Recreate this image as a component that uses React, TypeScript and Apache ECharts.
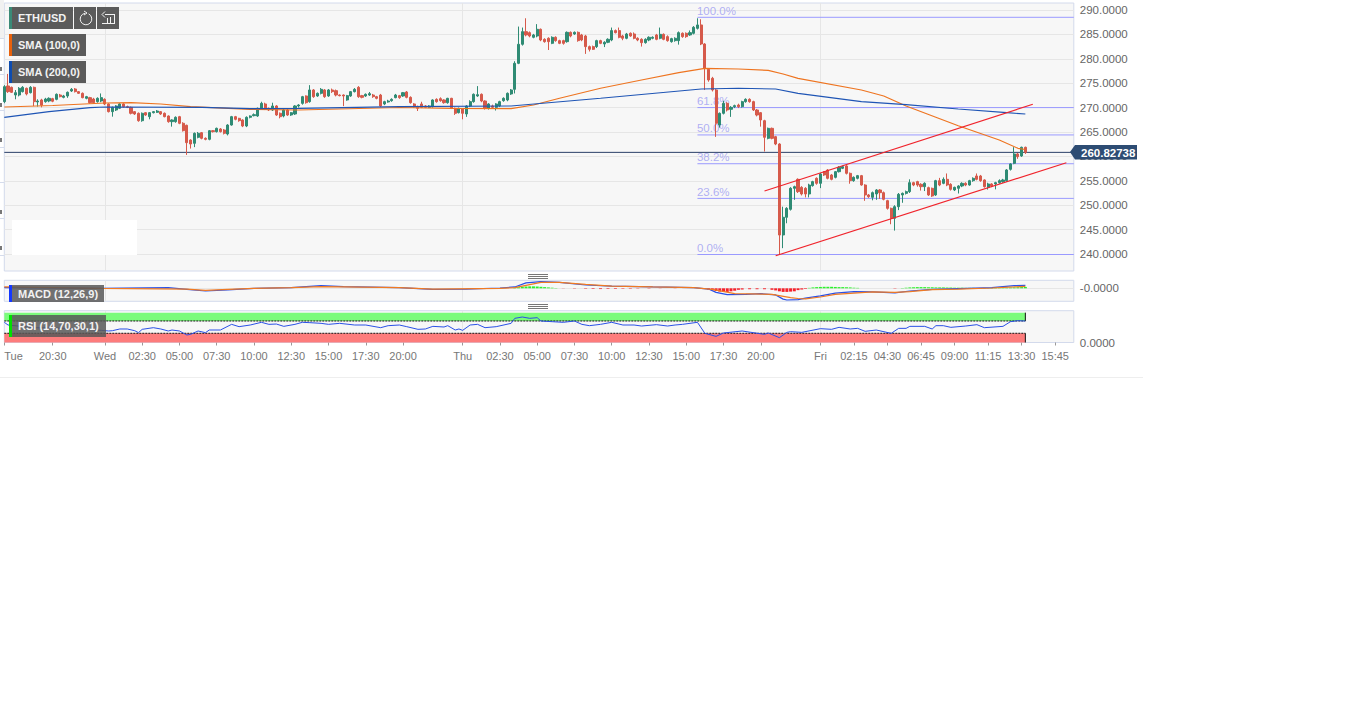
import React, { useEffect, useRef } from "react";
import * as echarts from "echarts";

// rows: [open, close, low, high], one per 15 minute bar
const candlesTue = [
[271.22,274.29,270.9,274.6],[274.43,273.27,273.0,276.9],[274.15,273.13,273.0,274.3],[272.58,273.06,271.7,273.6],[272.58,273.95,272.3,274.2],
[273.27,274.15,273.1,274.4],[273.95,272.79,272.5,274.1],[273.06,274.15,272.9,274.4],[274.15,271.22,270.3,274.3],[271.15,271.35,270.2,271.7],
[271.56,270.5,270.05,271.8],[271.22,271.76,271.0,272.0],[271.35,271.9,271.1,272.1],[271.83,271.3,271.1,272.0],[271.69,272.72,271.5,272.9],
[272.58,272.24,272.1,272.8],[272.1,272.38,271.9,272.6],[272.38,273.13,272.0,273.3],[273.4,273.74,273.2,274.0],[273.81,273.27,273.1,274.0],
[273.27,272.92,272.8,273.4],[272.92,272.04,271.9,273.1],[271.9,272.24,271.7,272.4],[272.04,271.01,270.8,272.2],[271.76,271.01,270.8,272.0],
[271.22,271.9,271.0,272.1],[271.35,272.04,271.1,272.9],
];
const candlesWed = [
[271.69,270.74,270.5,271.9],[270.74,269.17,269.0,270.9],[269.17,270.05,268.14,270.2],[269.51,270.33,269.3,270.5],[269.85,270.74,269.7,270.9],
[270.74,270.19,270.0,270.9],[270.19,270.05,269.9,270.4],[270.05,268.83,268.6,270.2],[269.17,268.69,268.5,269.3],[268.83,267.32,267.1,269.0],
[267.32,268.83,267.1,269.0],[268.96,268.48,268.3,269.1],[268.14,268.96,267.6,269.1],[268.96,269.17,268.8,269.3],[269.03,269.3,268.9,269.5],
[269.17,268.69,268.5,269.3],[268.83,268.14,268.0,269.0],[268.28,267.12,266.9,268.4],[267.12,267.46,266.1,267.6],[267.12,268.01,266.9,268.2],
[268.14,266.78,266.6,268.3],[266.78,265.27,265.1,267.0],[266.37,262.81,260.3,266.5],[263.36,262.54,261.6,263.5],[262.68,264.73,261.9,264.9],
[263.91,264.73,263.7,265.0],[264.86,263.7,263.5,265.0],[263.7,263.5,263.3,263.9],[263.5,265.27,263.3,265.4],[265.27,265.07,264.9,265.4],
[265.07,265.75,264.9,265.9],[265.62,265.07,264.9,265.8],[265.41,264.73,264.5,265.6],[264.59,266.43,264.3,266.6],[266.43,268.14,266.3,268.3],
[268.14,267.6,267.4,268.3],[267.8,267.32,267.1,267.9],[267.46,266.23,266.0,267.6],[266.23,268.01,266.0,268.2],[268.01,268.28,267.8,268.4],
[268.35,268.55,268.2,268.8],[268.28,269.85,268.1,270.0],[269.85,270.87,269.7,271.2],[270.74,269.71,269.5,271.0],[269.85,269.51,269.3,270.0],
[269.51,270.33,269.3,271.0],[270.33,268.48,268.3,270.5],[268.83,268.14,267.8,269.0],[268.28,269.51,268.0,269.7],[269.51,268.48,268.3,269.7],
[268.48,268.96,268.3,269.1],[268.69,270.33,268.5,270.5],[270.33,270.53,270.0,270.7],[270.87,272.24,270.6,272.4],[272.38,271.01,270.8,272.5],
[271.22,273.61,271.0,274.6],[273.61,272.24,272.0,273.8],[272.38,272.92,272.2,273.1],[272.92,273.74,272.7,274.0],[273.61,272.24,272.0,273.8],
[272.38,273.61,272.2,273.8],[273.61,273.27,273.0,273.9],[273.47,272.58,272.3,273.7],[272.58,272.45,272.3,272.7],[272.58,272.38,270.3,272.7],
[271.56,272.45,271.4,272.6],[272.38,273.27,272.2,273.4],[273.27,273.74,273.1,274.0],[274.15,272.24,272.0,274.4],[272.45,272.1,271.9,272.6],
[272.38,272.72,272.2,272.9],[272.58,272.86,272.4,273.2],[272.58,272.24,272.0,272.8],[272.24,271.9,271.7,272.4],[272.58,270.33,270.1,272.8],
[270.74,271.22,270.5,271.4],[271.15,271.35,271.0,271.6],[271.42,271.69,271.2,271.9],[272.04,272.58,271.9,272.8],[272.45,272.04,271.8,272.6],
[272.38,273.06,272.2,273.2],[273.2,272.1,271.9,273.4],[272.1,271.01,270.8,272.3],[270.74,270.19,270.0,270.9],[270.19,269.85,269.3,270.4],
[270.74,270.05,269.9,271.2],[270.33,270.05,269.9,270.5],[270.05,270.33,269.9,270.5],[270.19,271.56,270.0,271.7],[271.69,271.22,271.0,271.9],
[271.83,271.42,271.2,272.1],[271.56,271.01,270.8,271.7],[271.01,271.9,270.8,272.0],[271.9,269.85,269.7,272.0],[269.85,268.83,268.5,270.0],
[268.96,269.85,268.8,270.0],
];
const candlesThu = [
[269.71,268.83,267.6,269.9],[268.69,270.33,268.1,270.5],[270.33,271.22,270.1,271.5],[271.22,272.72,271.0,272.9],[272.38,272.65,272.2,274.4],
[272.72,271.35,271.1,272.9],[271.35,269.85,269.6,271.5],[269.85,270.74,269.6,270.9],[270.33,270.05,269.9,270.6],[270.05,270.74,269.4,270.9],
[270.33,271.22,270.1,271.4],[271.42,271.9,271.2,272.1],[271.56,272.92,271.3,273.1],[272.79,273.61,272.6,273.8],[273.74,279.07,272.9,279.5],
[279.07,282.97,278.9,286.6],[282.97,285.56,282.7,286.4],[285.56,284.88,284.6,288.3],[285.36,284.67,284.4,285.6],[284.4,284.88,284.2,285.1],
[284.67,286.04,284.4,287.1],[286.04,283.85,283.6,286.2],[283.99,283.51,283.3,284.2],[284.2,283.51,281.8,284.4],[283.17,284.4,283.0,284.6],
[284.4,283.72,283.5,284.6],[283.72,283.17,283.0,283.9],[283.72,283.17,282.9,283.9],[283.51,285.42,283.3,285.6],[285.42,284.67,284.4,285.6],
[285.08,285.42,284.9,285.6],[285.42,283.72,283.5,285.6],[284.88,283.85,283.6,285.1],[284.67,282.49,281.0,284.9],[282.49,281.94,281.5,282.7],
[282.49,281.94,281.8,282.7],[282.49,283.72,282.2,283.9],[283.72,283.17,283.0,283.9],[283.03,283.38,282.4,283.6],[283.38,283.99,283.2,284.2],
[283.85,285.77,283.6,286.4],[285.77,285.36,285.2,286.0],[285.77,284.4,284.2,286.4],[284.67,284.2,283.8,284.9],[284.2,285.08,284.0,285.3],
[285.22,284.67,284.5,285.4],[285.08,284.2,284.0,285.4],[284.2,283.85,283.6,284.4],[283.99,283.31,282.5,284.2],[283.31,283.99,283.1,284.2],
[283.85,284.4,283.6,284.6],[284.2,284.4,284.0,284.6],[284.88,283.99,283.8,285.1],[284.2,285.01,284.0,286.4],[285.01,283.99,283.8,285.2],
[284.54,283.72,283.5,284.8],[283.51,284.13,283.3,284.3],[283.72,284.2,283.5,284.4],[283.72,285.36,282.9,285.6],[285.22,284.54,284.3,285.4],
[285.22,284.54,284.3,285.4],[284.88,285.36,284.7,285.8],[285.22,286.45,285.0,286.7],[286.24,286.93,286.0,288.3],[286.93,283.03,282.8,288.1],
[283.03,278.05,273.6,283.2],[277.84,275.66,275.3,278.1],[276.0,273.61,273.3,276.3],[273.61,266.78,264.0,273.8],[266.43,268.83,265.9,269.0],
[268.83,270.87,268.6,271.4],[270.87,269.51,269.2,271.1],[269.65,270.05,268.1,270.3],[270.19,270.4,269.9,270.6],[270.53,270.19,269.9,270.8],
[270.19,271.22,270.0,271.4],[271.22,271.69,271.0,271.9],[271.69,271.22,271.0,271.9],[271.22,269.51,269.3,271.4],[269.51,268.48,268.2,269.7],
[268.96,267.46,266.1,269.1],[267.32,263.91,261.0,267.5],[263.7,265.75,263.5,265.9],[265.75,263.7,263.5,265.9],[264.05,262.54,262.3,264.2],
[262.54,243.89,239.8,262.7],[243.9,247.52,241.2,249.7],[247.52,249.36,246.3,249.6],[249.16,253.46,248.9,253.7],[253.46,253.8,251.1,254.0],
[255.3,252.78,252.5,255.5],[253.66,252.3,252.0,253.9],[253.46,252.3,251.6,253.7],[252.3,254.14,251.6,254.4],[254.01,254.83,253.8,255.0],
[255.51,254.48,254.2,255.7],
];
const candlesFri = [
[254.48,256.4,253.5,256.6],[256.87,256.19,256.0,257.0],[257.2,255.51,255.3,257.4],[256.19,255.3,255.1,256.4],[255.71,256.87,255.5,257.0],
[256.87,257.76,256.7,258.0],[257.56,257.9,257.4,258.1],[258.04,256.53,256.3,258.2],[256.53,255.03,254.4,256.7],[255.03,255.71,254.8,255.9],
[255.51,256.06,255.3,256.2],[256.06,254.14,254.0,256.2],[254.14,252.1,250.9,254.3],[252.1,251.75,251.5,252.3],[251.62,252.57,251.0,252.8],
[252.3,253.12,251.1,253.3],[253.12,252.57,251.3,253.3],[252.57,251.21,251.0,252.8],[250.93,249.36,249.1,251.1],[249.36,247.31,246.1,249.5],
[247.31,249.7,244.8,250.0],[249.7,252.23,249.0,252.5],[252.1,252.43,250.5,252.6],[252.43,252.78,252.2,253.0],[252.78,254.62,252.5,255.3],
[254.62,254.14,253.9,254.8],[254.83,254.14,253.8,255.0],[254.28,253.8,253.0,254.5],[253.8,254.48,252.9,254.7],[253.6,252.1,251.9,253.8],
[253.46,251.89,251.7,253.6],[252.1,255.03,251.9,255.2],[255.03,254.14,253.9,255.6],[254.48,255.3,254.3,255.7],[255.3,254.14,253.9,256.5],
[254.28,253.25,253.0,254.5],[253.12,253.66,252.9,253.8],[253.46,253.94,252.4,254.1],[253.94,254.48,253.7,254.7],[254.48,254.14,253.9,254.7],
[254.14,255.03,254.0,255.2],[255.03,255.51,254.8,255.7],[255.99,255.3,255.1,256.5],[255.99,255.03,254.8,256.2],[255.17,253.8,253.6,255.3],
[253.66,254.35,253.2,254.6],[254.35,253.94,253.7,254.5],[254.35,254.62,253.25,254.8],[254.62,255.03,254.4,255.3],[254.83,255.17,254.6,255.4],
[255.03,257.22,254.8,257.4],[257.35,258.45,257.1,258.6],[258.58,260.5,258.4,261.9],[260.5,259.95,259.5,260.7],[260.09,261.86,259.9,262.0],
[261.86,260.83,260.5,262.0],
];

// [bar index, value]
const sma100 = [[0,270.12],[13,270.43],[27,270.94],[34,271.0],[42,270.74],[50,270.19],[66,269.65],[79,269.51],[106,270.02],[120,269.86],[136,269.78],[142,270.53],[149,271.91],[160,273.96],[171,275.66],[181,277.15],[188,278.05],[197,277.91],[205,277.64],[209,276.89],[213,276.0],[230,273.61],[236,272.38],[242,270.33],[256,266.29],[267,263.36],[272,261.66],[274,261.41]];
const sma200 = [[0,268.01],[12,269.16],[23,269.98],[27,270.12],[53,270.06],[66,269.78],[79,269.86],[106,270.19],[136,270.33],[160,271.91],[187,273.81],[197,273.96],[207,273.81],[213,272.93],[230,271.21],[242,270.59],[256,269.71],[269,268.95],[274,268.69]];
const fibLevels = [288.5, 270.0, 264.4, 258.5, 251.4, 239.9];
const fibLabels = ["100.0%", "61.8%", "50.0%", "38.2%", "23.6%", "0.0%"];
const trendUpper = [[204,252.91],[276,270.68]];
const trendLower = [[207,239.65],[285,258.71]];
const lastPrice = 260.82738;
const priceTicks = [240,245,250,255,260,265,270,275,280,285,290];

const macdLine = [[0,0.2],[26,0],[44,0.2],[49,-0.35],[54,-0.9],[60,-0.55],[67,0],[77,0.2],[85,0.9],[91,0.55],[106,0.2],[115,-0.35],[124,-0.25],[133,0.1],[137,0.45],[140,1.8],[144,2.2],[149,2],[156,1.1],[163,0.75],[174,0.45],[185,0.2],[189,-0.25],[191,-1.35],[194,-2.1],[199,-2],[203,-1.8],[207,-2.2],[209,-3.6],[210,-3.9],[213,-3.8],[215,-3.3],[219,-2.5],[223,-1.6],[228,-1.1],[233,-1.2],[239,-1.55],[243,-0.9],[249,-0.35],[256,-0.1],[265,0.2],[271,0.9],[274,1.0]];
const macdSignal = [[0,0.45],[26,0],[49,-0.25],[54,-0.7],[60,-0.35],[67,0],[77,0.2],[85,0.55],[91,0.45],[106,0.2],[115,-0.25],[133,0],[137,0.2],[144,2],[149,2],[156,1.3],[163,0.75],[174,0.45],[185,0.2],[190,-0.35],[196,-1.8],[206,-2],[211,-3.1],[213,-3.4],[215,-3.5],[219,-2.9],[223,-2],[228,-1.6],[233,-1.2],[239,-1.35],[243,-1.1],[249,-0.45],[256,-0.25],[265,0.1],[271,0.45],[274,0.65]];
const macdHist = [[137,0.2],[138,0.35],[139,0.5],[140,0.6],[141,0.65],[142,0.65],[143,0.6],[144,0.5],[145,0.4],[146,0.3],[147,0.2],[148,0.1],
[150,-0.05],[153,-0.1],[156,-0.15],[158,-0.2],[160,-0.25],[162,-0.2],[164,-0.2],[166,-0.15],[168,-0.15],[170,-0.1],[173,-0.1],[176,-0.05],[180,-0.05],
[188,-0.2],[189,-0.4],[190,-0.7],[191,-0.9],[192,-1.1],[193,-1.2],[194,-1.2],[195,-1.0],[196,-0.8],[197,-0.5],[198,-0.4],[200,-0.3],[202,-0.3],[204,-0.3],[206,-0.5],
[207,-0.7],[208,-1.0],[209,-1.2],[210,-1.2],[211,-1.1],[212,-1.0],[213,-0.6],[214,-0.4],[215,-0.2],
[216,0.15],[217,0.3],[218,0.4],[219,0.45],[220,0.5],[221,0.5],[222,0.5],[223,0.45],[224,0.4],[225,0.4],[226,0.35],[227,0.3],[228,0.2],[229,0.15],[239,-0.1],
[241,0.1],[242,0.2],[243,0.3],[244,0.35],[245,0.4],[246,0.4],[247,0.4],[248,0.35],[249,0.35],[250,0.3],[251,0.3],[252,0.3],[253,0.25],[254,0.25],[255,0.2],[256,0.2],[257,0.2],[258,0.15],[259,0.15],[260,0.15],[261,0.1],[262,0.1],[263,0.1],[264,0.1],[265,0.1],[266,0.1],[267,0.1],[268,0.15],[269,0.2],[270,0.25],[271,0.3],[272,0.35],[273,0.4],[274,0.45]];

const rsiLine = [[0,65.6],[1,56.9],[8,48],[17,46],[26,39.5],[28,37.4],[29,38.4],[31,43.9],[33,43.9],[35,38.4],[36,32],[37,42.8],[40,48.2],[42,43.9],[44,37.4],[45,40.6],[47,37.4],[49,24.4],[50,26.5],[52,37.4],[54,32],[55,40.6],[58,40.6],[61,59],[63,51.5],[66,56.9],[69,65.6],[71,59],[73,60.1],[75,52.5],[78,59],[80,65.6],[82,64.5],[85,62.3],[87,59],[90,62.3],[94,56.9],[97,56.9],[101,48.2],[103,54.7],[106,56.9],[108,51.5],[111,42.8],[113,43.9],[115,52.5],[118,50.4],[119,54.7],[121,40.6],[122,43.9],[123,39.5],[125,56.9],[127,59],[129,48.2],[132,51.5],[136,62.3],[137,78.6],[139,82.9],[141,78.6],[143,80.7],[144,69.9],[147,67.7],[150,65.6],[153,69.9],[155,59],[157,54.7],[160,59],[163,65.6],[166,56.9],[169,56.9],[171,53.6],[175,58],[178,53.6],[180,56.9],[182,59],[186,65.6],[188,29.8],[191,20],[193,30.9],[198,37.4],[204,26.5],[205,30.9],[208,15.7],[210,33],[211,35.2],[214,33],[219,45],[222,42.8],[224,49.3],[227,43.9],[229,46],[231,36.3],[234,40.6],[238,29.8],[240,46],[242,46],[243,52.5],[247,52.5],[249,43.9],[250,54.7],[252,54.7],[254,49.3],[258,53.6],[261,58],[263,48.2],[268,52.5],[270,67.7],[272,71],[274,69.9]];
const rsiHigh = 70;
const rsiLow = 30;
const rsiBandTop = 97;

const tickLabels: [number, string][] = [[0,"Tue"],[13,"20:30"],[27,"Wed"],[37,"02:30"],[47,"05:00"],[57,"07:30"],[67,"10:00"],[77,"12:30"],[87,"15:00"],[97,"17:30"],[107,"20:00"],[123,"Thu"],[133,"02:30"],[143,"05:00"],[153,"07:30"],[163,"10:00"],[173,"12:30"],[183,"15:00"],[193,"17:30"],[203,"20:00"],[219,"Fri"],[228,"02:15"],[237,"04:30"],[246,"06:45"],[255,"09:00"],[264,"11:15"],[273,"13:30"],[282,"15:45"]];
const dayBars = [27, 123, 219];
const slotCount = 288;
const lastBar = 274;
const fibStart = 186;

const UP = "#2f8b74";
const DOWN = "#d65a4b";
const BLUE = "#1f55b5";
const ORANGE = "#ee7420";
const FIB = "#9a9aff";
const FONT = "'Liberation Sans', Arial, sans-serif";

const labelMap = new Map(tickLabels);

function buildOption() {
  const candles = [...candlesTue, ...candlesWed, ...candlesThu, ...candlesFri];
  const cats = Array.from({ length: slotCount }, (_, i) => "b" + i);
  const grids = [
    { left: 4.3, top: 3, width: 1069.5, height: 268 },
    { left: 4.3, top: 280.3, width: 1069.5, height: 21 },
    { left: 4.3, top: 310.7, width: 1069.5, height: 31.8 },
  ].map((g) => ({ ...g, show: true, backgroundColor: "#f7f7f7", borderColor: "#d3daec", borderWidth: 1 }));

  const xAxis = [0, 1, 2].map((k) => ({
    type: "category",
    gridIndex: k,
    data: cats,
    boundaryGap: false,
    axisLine: { show: false },
    axisTick: {
      show: k === 2,
      length: 3,
      interval: (i: number) => labelMap.has(i),
      lineStyle: { color: "#999" },
    },
    axisLabel: {
      show: k === 2,
      interval: (i: number) => labelMap.has(i),
      formatter: (_: string, i: number) => labelMap.get(i) ?? "",
      alignMinLabel: "left",
      color: "#777",
      fontFamily: FONT,
      fontSize: 11,
      margin: 8,
    },
    splitLine: {
      show: true,
      interval: (i: number) => dayBars.includes(i),
      lineStyle: { color: "#e6e6e6", width: 1 },
    },
  }));

  const yCommon = {
    type: "value",
    position: "right",
    scale: false,
    axisLine: { show: false },
  };
  const yLabel = { color: "#666", fontFamily: FONT, fontSize: 11.5, margin: 6 };
  const yAxis = [
    {
      ...yCommon,
      gridIndex: 0,
      min: 236.52,
      max: 291.43,
      axisTick: { length: 5, customValues: priceTicks, lineStyle: { color: "#aaa" } },
      axisLabel: { ...yLabel, customValues: priceTicks, formatter: (v: number) => v.toFixed(4) },
      splitLine: { show: true, lineStyle: { color: "#e6e6e6" } },
    },
    {
      ...yCommon,
      gridIndex: 1,
      min: -4.33,
      max: 2.67,
      axisTick: { length: 5, customValues: [0], lineStyle: { color: "#aaa" } },
      axisLabel: { ...yLabel, customValues: [0], formatter: () => "-0.0000" },
      splitLine: { show: true, lineStyle: { color: "#e6e6e6" } },
    },
    {
      ...yCommon,
      gridIndex: 2,
      min: 0,
      max: 103.4,
      axisTick: { length: 5, customValues: [0], lineStyle: { color: "#aaa" } },
      axisLabel: { ...yLabel, customValues: [0], formatter: () => "0.0000" },
      splitLine: { show: false },
    },
  ];

  const line = (name: string, data: number[][], color: string, width: number, k = 0, extra = {}) => ({
    name,
    type: "line",
    xAxisIndex: k,
    yAxisIndex: k,
    data,
    symbol: "none",
    silent: true,
    lineStyle: { color, width },
    ...extra,
  });

  const series: any[] = [
    ...fibLevels.map((v, n) => line("fib" + n, [[fibStart, v], [slotCount - 1, v]], FIB, 1, 0, { z: 1 })),
    line("price", [[0, lastPrice], [slotCount - 1, lastPrice]], "#2a3f68", 1, 0, { z: 1 }),
    {
      name: "fib labels",
      type: "scatter",
      symbolSize: 1,
      silent: true,
      itemStyle: { color: "transparent" },
      z: 1,
      data: fibLevels.map((v, n) => ({
        value: [fibStart, v],
        label: {
          show: true,
          formatter: fibLabels[n],
          position: [0, -12],
          color: "#9c9cf2",
          fontFamily: FONT,
          fontSize: 11.5,
        },
      })),
    },
    {
      name: "ETH/USD",
      type: "candlestick",
      data: candles,
      barWidth: 2.6,
      silent: true,
      z: 3,
      itemStyle: { color: UP, color0: DOWN, borderColor: UP, borderColor0: DOWN, borderWidth: 1 },
    },
    line("SMA (100,0)", sma100, ORANGE, 1.2, 0, { z: 4 }),
    line("SMA (200,0)", sma200, BLUE, 1.2, 0, { z: 4 }),
    line("upper", trendUpper, "#f0242c", 1.2, 0, { z: 5 }),
    line("lower", trendLower, "#f0242c", 1.2, 0, { z: 5 }),
    {
      name: "hist",
      type: "bar",
      xAxisIndex: 1,
      yAxisIndex: 1,
      barWidth: 3,
      silent: true,
      data: macdHist.map(([i, v]) => ({ value: [i, v], itemStyle: { color: v >= 0 ? "#2cf02c" : "#f5202a" } })),
    },
    line("MACD", macdLine, "#2a50e6", 1.2, 1, { z: 4 }),
    line("signal", macdSignal, "#f07a22", 1.2, 1, { z: 5 }),
    line("RSI", rsiLine, "#2a50e6", 1, 2, {
      z: 5,
      markArea: {
        silent: true,
        data: [
          [
            { coord: [0, rsiHigh], itemStyle: { color: "#7bfb7b", opacity: 1 } },
            { coord: [lastBar, rsiBandTop] },
          ],
          [
            { coord: [0, 0], itemStyle: { color: "#fd7c7c", opacity: 1 } },
            { coord: [lastBar, rsiLow] },
          ],
        ],
      },
    }),
    line("rsiHigh", [[0, rsiHigh], [lastBar, rsiHigh]], "#111", 1, 2, { lineStyle: { color: "#111", width: 1, type: [2, 1] } }),
    line("rsiLow", [[0, rsiLow], [lastBar, rsiLow]], "#111", 1, 2, { lineStyle: { color: "#111", width: 1, type: [2, 1] } }),
    line("rsiEdgeTop", [[lastBar, rsiHigh], [lastBar, rsiBandTop]], "#111", 1, 2),
    line("rsiEdgeBottom", [[lastBar, 0], [lastBar, rsiLow]], "#111", 1, 2),
  ];

  const btn = (x: number, y: number, w: number, h: number, text?: string, stripe?: string, op = 0.98) => {
    const out: any[] = [
      { type: "rect", shape: { x, y, width: w, height: h }, style: { fill: "#585858", opacity: op }, z: 20 },
    ];
    if (stripe) out.push({ type: "rect", shape: { x, y, width: 3, height: h }, style: { fill: stripe }, z: 21 });
    if (text)
      out.push({
        type: "text",
        x: x + 9,
        y: y + h / 2,
        style: { text, fill: "#f2f2f2", font: `bold 11px ${FONT}`, textVerticalAlign: "middle", verticalAlign: "middle" },
        z: 22,
      });
    return out;
  };
  const stroke = { stroke: "#f2f2f2", lineWidth: 1, fill: "none" };
  const seg = (x1: number, y1: number, x2: number, y2: number) => ({
    type: "line",
    shape: { x1, y1, x2, y2 },
    style: stroke,
    z: 22,
  });
  const grip = (y: number) =>
    [0, 2, 4].map((d) => ({
      type: "line",
      shape: { x1: 528, y1: y + d, x2: 548, y2: y + d },
      style: { stroke: "#777", lineWidth: 1 },
      z: 20,
    }));
  const leftStrip = (y: number) => ({
    type: "line",
    shape: { x1: 0, y1: y, x2: 4, y2: y },
    style: { stroke: "#d5dcec", lineWidth: 1 },
    z: 1,
  });
  const leftMark = (y: number) => ({
    type: "rect",
    shape: { x: 0, y, width: 2, height: 4 },
    style: { fill: "#777" },
    z: 1,
  });

  const graphic = [
    { type: "rect", shape: { x: 0, y: 0, width: 4, height: 38 }, style: { fill: "#f1f1f1" }, z: 1 },
    ...[38.5, 74.5, 110.5, 147.5, 182.5, 218.5, 255.5].map(leftStrip),
    ...[67, 103, 138, 210, 246].map(leftMark),
    { type: "line", shape: { x1: 0, y1: 377.5, x2: 1143, y2: 377.5 }, style: { stroke: "#eeeeee", lineWidth: 1 }, z: 1 },
    { type: "rect", shape: { x: 12, y: 220, width: 125, height: 35 }, style: { fill: "#ffffff" }, z: 19 },
    ...btn(9, 7, 64, 22, "ETH/USD", "#3a8a78"),
    ...btn(74, 7, 22, 22),
    ...btn(97, 7, 22, 22),
    ...btn(9, 34, 77, 22, "SMA (100,0)", "#e8610c"),
    ...btn(9, 61, 77, 22, "SMA (200,0)", "#0d4cb0"),
    ...btn(9, 285, 95, 17, "MACD (12,26,9)", "#1438ff", 0.85),
    ...btn(9, 315, 97, 22, "RSI (14,70,30,1)", "#00e000", 0.85),
    {
      type: "arc",
      shape: { cx: 86, cy: 19, r: 5.8, startAngle: -1.1, endAngle: -1.75, clockwise: true },
      style: stroke,
      z: 22,
    },
    { type: "polyline", shape: { points: [[84, 11], [87, 13], [84, 15]] }, style: stroke, z: 22 },
    seg(105, 14.5, 115, 14.5),
    seg(114.5, 14, 114.5, 23),
    seg(102, 23.5, 115, 23.5),
    seg(107.5, 18, 107.5, 23),
    seg(110.5, 17, 110.5, 23),
    { type: "polyline", shape: { points: [[105, 11.5], [102, 14.5], [105, 17.5]] }, style: stroke, z: 22 },
    ...grip(274.5),
    ...grip(304.5),
    { type: "polygon", shape: { points: [[1070, 152], [1075, 145], [1137, 145], [1137, 159.5], [1075, 159.5]] }, style: { fill: "#2d4c73" }, z: 23 },
    {
      type: "text",
      x: 1081,
      y: 152.5,
      style: { text: lastPrice.toFixed(5), fill: "#fff", font: `bold 11.5px ${FONT}`, verticalAlign: "middle", textVerticalAlign: "middle" },
      z: 24,
    },
  ];

  return { animation: false, backgroundColor: "#ffffff", grid: grids, xAxis, yAxis, series, graphic };
}

export default function App() {
  const ref = useRef<HTMLDivElement>(null);
  useEffect(() => {
    document.body.style.margin = "0";
    const chart = echarts.init(ref.current!, undefined, { renderer: "svg" });
    chart.setOption(buildOption() as any);
    return () => chart.dispose();
  }, []);
  return <div ref={ref} style={{ width: 1366, height: 711 }} />;
}
